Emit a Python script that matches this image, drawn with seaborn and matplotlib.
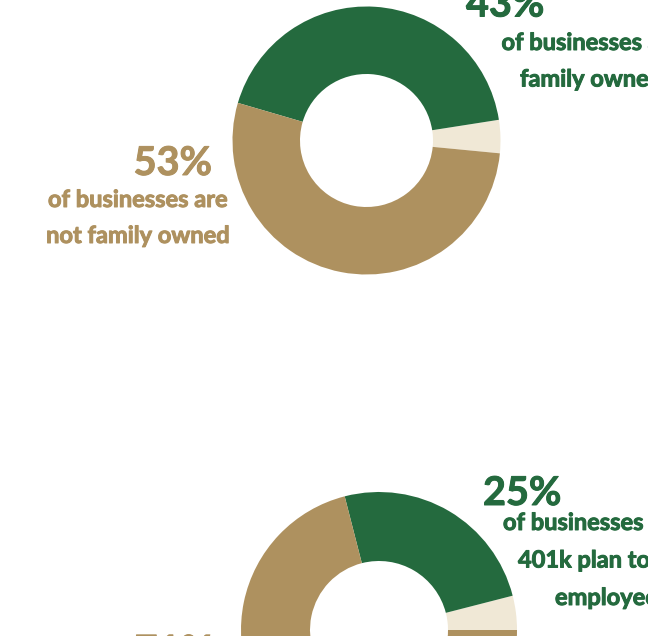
import matplotlib
matplotlib.use("Agg")
import matplotlib.pyplot as plt
import matplotlib.patheffects as pe
import seaborn as sns

# Survey shares (percent of businesses)
ownership_groups = ["Other", "Family owned", "Not family owned"]
ownership_share = [4, 43, 53]

retirement_groups = ["Other", "Offer a 401k plan", "No 401k plan"]
retirement_share = [4, 25, 71]

sns.set_theme(style="white")
plt.rcParams["font.family"] = ["Lato", "DejaVu Sans"]

GREEN = "#246a3e"
TAN = "#ae915f"
CREAM = "#f0e8d6"
palette = sns.color_palette([CREAM, GREEN, TAN])

W, H = 648, 636
fig = plt.figure(figsize=(W / 100, H / 100), dpi=100)
ax = fig.add_axes([0, 0, 1, 1])


def py(y):
    """Convert a top-down pixel row to the axes' bottom-up coordinate."""
    return H - y


# Donut 1: family ownership
ax.pie(ownership_share, colors=palette, startangle=-5.5, counterclock=True,
       center=(366.5, py(140.5)), radius=134,
       wedgeprops=dict(width=67.5, linewidth=0, antialiased=True))

# Donut 2: 401k plans
ax.pie(retirement_share, colors=palette, startangle=0, counterclock=True,
       center=(379, py(630)), radius=138,
       wedgeprops=dict(width=69, linewidth=0, antialiased=True))

ax.set_xlim(0, W)
ax.set_ylim(0, H)
ax.set_aspect("equal")
ax.axis("off")


def label(x, y, s, color, size, ha):
    # a thin outline in the text colour gives the labels a heavier weight
    ax.text(x, py(y), s, color=color, fontsize=size, fontweight="bold",
            ha=ha, va="baseline",
            path_effects=[pe.withStroke(linewidth=0.7, foreground=color)])


BIG, SMALL = 28.5, 17

# Labels for donut 1
label(466, 16.5, f"{ownership_share[1]}%", GREEN, BIG, "left")
label(501.5, 50, "of businesses are", GREEN, SMALL, "left")
label(520, 86.5, "family owned", GREEN, SMALL, "left")

label(212, 175, f"{ownership_share[2]}%", TAN, BIG, "right")
label(138, 207, "of businesses are", TAN, SMALL, "center")
label(138, 243, "not family owned", TAN, SMALL, "center")

# Labels for donut 2
label(483, 505, f"{retirement_share[1]}%", GREEN, BIG, "left")
label(503, 530, "of businesses offer a", GREEN, SMALL, "left")
label(518, 567.5, "401k plan to their", GREEN, SMALL, "left")
label(555, 605, "employees", GREEN, SMALL, "left")

label(213, 663.5, f"{retirement_share[2]}%", TAN, BIG, "right")

fig.savefig("out.png", dpi=100, facecolor="white")
